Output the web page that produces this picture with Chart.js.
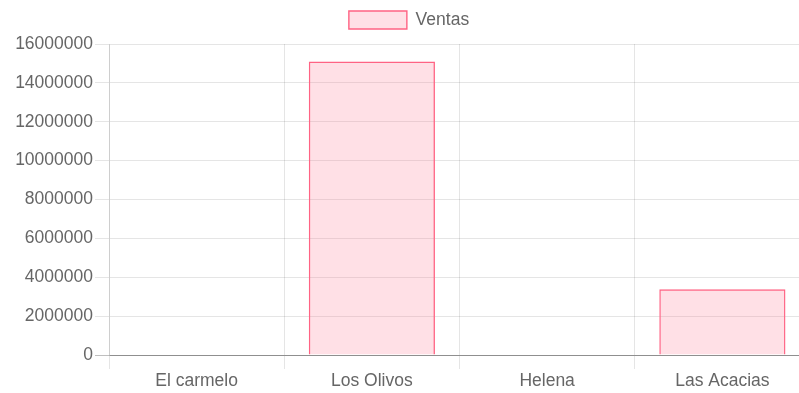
<!DOCTYPE html>
<html>
<head>
<meta charset="utf-8">
<title>Ventas por sede</title>
<script src="https://cdn.jsdelivr.net/npm/chart.js@4.4.1/dist/chart.umd.min.js"></script>
<style>
    html, body { margin: 0; padding: 0; overflow: hidden; background: #fff; }
    #wrap { width: 818px; height: 393px; }
</style>
</head>
<body>
<div id="wrap">
    <canvas id="ventas" width="818" height="393"></canvas>
</div>
<script>
let sedes = ['El carmelo', 'Los Olivos', 'Helena', 'Las Acacias'];
let ventas = [0, 15100000, 0, 3380000];
let maxVentas = 16000000;
let paso = 2000000;

let fuente = { family: 'Liberation Sans, Arial, Helvetica, sans-serif', size: 17.5 };

// deja un poco de aire entre la leyenda y el grafico
const margenLeyenda = {
    id: 'margenLeyenda',
    beforeInit(chart) {
        const fitOriginal = chart.legend.fit;
        chart.legend.fit = function () {
            fitOriginal.bind(chart.legend)();
            this.height += 5;
        };
    }
};

const ctx = document.getElementById('ventas').getContext('2d');
const chart = new Chart(ctx, {
    type: 'bar',
    data: {
        labels: sedes,
        datasets: [{
            label: 'Ventas',
            data: ventas,
            backgroundColor: 'rgba(255, 99, 132, 0.2)',
            borderColor: 'rgba(255, 99, 132, 1)',
            borderWidth: 1.4,
            categoryPercentage: 0.8,
            barPercentage: 0.9
        }]
    },
    plugins: [margenLeyenda],
    options: {
        responsive: false,
        animation: false,
        devicePixelRatio: 1,
        layout: {
            padding: { left: 8, right: 8, top: 1, bottom: 0 }
        },
        plugins: {
            legend: {
                labels: {
                    color: '#666',
                    font: fuente,
                    boxWidth: 58,
                    boxHeight: 18
                }
            },
            tooltip: { enabled: false }
        },
        scales: {
            x: {
                grid: {
                    offset: true,
                    color: 'rgba(0, 0, 0, 0.1)',
                    tickLength: 14
                },
                border: { color: 'rgba(0, 0, 0, 0.25)' },
                ticks: { color: '#666', font: fuente, padding: 1.5 }
            },
            y: {
                min: 0,
                max: maxVentas,
                afterFit: function (scale) { scale.width = 101; },
                grid: {
                    color: function (c) {
                        return c.tick && c.tick.value === 0 ? 'rgba(0, 0, 0, 0.25)' : 'rgba(0, 0, 0, 0.1)';
                    },
                    tickLength: 14
                },
                border: { color: 'rgba(0, 0, 0, 0.1)' },
                ticks: {
                    stepSize: paso,
                    color: '#666',
                    font: fuente,
                    padding: 2,
                    callback: function (value) { return String(value); }
                }
            }
        }
    }
});
</script>
</body>
</html>
